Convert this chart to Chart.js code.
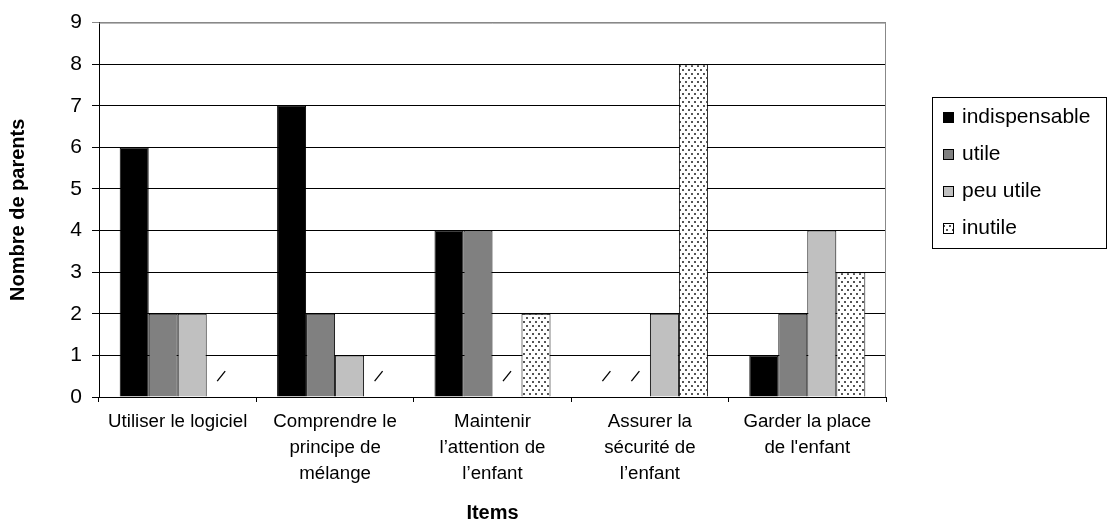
<!DOCTYPE html>
<html>
<head>
<meta charset="utf-8">
<script src="https://cdn.jsdelivr.net/npm/chart.js@4.4.0/dist/chart.umd.min.js"></script>
<style>
  html, body { margin: 0; background: #fff; }
  #wrap { width: 1107px; height: 527px; }
</style>
</head>
<body>
<div id="wrap"><canvas id="chart" width="1107" height="527"></canvas></div>
<script>
// Items evaluated by the parents
const items = [
  'Utiliser le logiciel',
  ['Comprendre le', 'principe de', 'mélange'],
  ['Maintenir', 'l’attention de', 'l’enfant'],
  ['Assurer la', 'sécurité de', 'l’enfant'],
  ['Garder la place', 'de l\'enfant']
];
const seriesNames = ['indispensable', 'utile', 'peu utile', 'inutile'];
const indispensable = [6, 7, 4, 0, 1];
const utile = [2, 2, 4, 0, 2];
const peuUtile = [2, 1, 0, 2, 4];
const inutile = [0, 0, 2, 8, 3];
const yMin = 0, yMax = 9, yStep = 1;

const FONT = 'Liberation Sans, Arial, sans-serif';

// dotted fill for the "inutile" series
function dotPattern() {
  const tile = document.createElement('canvas');
  tile.width = 6; tile.height = 8;
  const g = tile.getContext('2d');
  g.fillStyle = '#fff';
  g.fillRect(0, 0, 6, 8);
  g.fillStyle = '#555';
  g.fillRect(1, 1, 2, 2);
  g.fillRect(4, 5, 2, 2);
  return g.createPattern(tile, 'repeat');
}

const fills = ['#000000', '#808080', '#c0c0c0', dotPattern()];
const values = [indispensable, utile, peuUtile, inutile];

// gray frame on top and right of the plot area
const plotFrame = {
  id: 'plotFrame',
  afterDraw(chart) {
    const { ctx, chartArea: a } = chart;
    ctx.save();
    ctx.strokeStyle = '#888';
    ctx.lineWidth = 1;
    ctx.beginPath();
    ctx.moveTo(a.left, a.top + 0.5);
    ctx.lineTo(a.right - 0.5, a.top + 0.5);
    ctx.lineTo(a.right - 0.5, a.bottom);
    ctx.stroke();
    ctx.restore();
  }
};

// a small slash marks every zero answer
const zeroMarks = {
  id: 'zeroMarks',
  afterDatasetsDraw(chart) {
    const { ctx } = chart;
    const y = chart.scales.y.getPixelForValue(0.5);
    ctx.save();
    ctx.strokeStyle = '#000';
    ctx.lineWidth = 1.3;
    chart.data.datasets.forEach((ds, i) => {
      chart.getDatasetMeta(i).data.forEach((bar, j) => {
        if (ds.data[j] !== 0) return;
        ctx.beginPath();
        ctx.moveTo(bar.x - 4, y + 5);
        ctx.lineTo(bar.x + 4, y - 5);
        ctx.stroke();
      });
    });
    ctx.restore();
  }
};

// boxed legend on the right side
const boxLegend = {
  id: 'boxLegend',
  afterDraw(chart) {
    const { ctx } = chart;
    const left = 932, top = 97, width = 174, rowH = 37;
    const n = chart.data.datasets.length;
    ctx.save();
    ctx.strokeStyle = '#000';
    ctx.lineWidth = 1;
    ctx.strokeRect(left + 0.5, top + 0.5, width, rowH * n + 3);
    ctx.font = '21px ' + FONT;
    ctx.textBaseline = 'middle';
    chart.data.datasets.forEach((ds, i) => {
      const cy = top + 20 + i * rowH;
      ctx.fillStyle = ds.backgroundColor;
      ctx.fillRect(943, cy - 5, 10, 10);
      ctx.strokeRect(943.5, cy - 4.5, 10, 10);
      ctx.fillStyle = '#000';
      ctx.fillText(ds.label, 962, cy);
    });
    ctx.restore();
  }
};

new Chart(document.getElementById('chart'), {
  type: 'bar',
  data: {
    labels: items,
    datasets: seriesNames.map((name, i) => ({
      label: name,
      data: values[i],
      backgroundColor: fills[i],
      borderColor: '#000',
      borderWidth: 1,
      categoryPercentage: 0.737,
      barPercentage: 1
    }))
  },
  options: {
    responsive: false,
    animation: false,
    layout: { padding: { top: 19, right: 221, left: 0, bottom: 0 } },
    plugins: { legend: { display: false }, tooltip: { enabled: false } },
    scales: {
      x: {
        grid: { drawOnChartArea: false, tickLength: 5, color: '#000', offset: true },
        border: { color: '#000' },
        ticks: {
          color: '#000', maxRotation: 0, autoSkip: false, padding: 7,
          font: { family: FONT, size: 18.7, lineHeight: 26 / 18.7 }
        },
        title: {
          display: true, text: 'Items', color: '#000',
          font: { family: FONT, size: 20, weight: 'bold' },
          padding: { top: 0, bottom: 2 }
        },
        afterFit(s) { s.height = 130; }
      },
      y: {
        min: yMin, max: yMax,
        grid: {
          color: c => (c.tick && c.tick.value === yMax ? '#888' : '#000'),
          tickLength: 7, lineWidth: 1
        },
        border: { color: '#000' },
        ticks: { stepSize: yStep, color: '#000', padding: 10, font: { family: FONT, size: 21 } },
        title: {
          display: true, text: 'Nombre de parents', color: '#000',
          font: { family: FONT, size: 20, weight: 'bold' },
          padding: { top: 6, bottom: 0 }
        },
        afterFit(s) { s.width = 99; }
      }
    }
  },
  plugins: [plotFrame, zeroMarks, boxLegend]
});
</script>
</body>
</html>
